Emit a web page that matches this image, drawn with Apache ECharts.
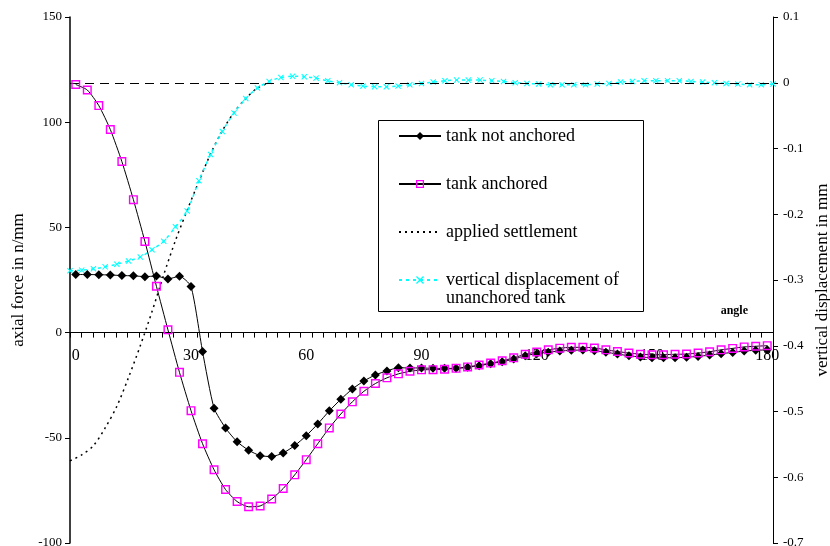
<!DOCTYPE html>
<html>
<head>
<meta charset="utf-8">
<script src="https://cdn.jsdelivr.net/npm/echarts@6/dist/echarts.min.js"></script>
<style>
  html, body { margin: 0; padding: 0; background: #fff; }
  #chart { width: 830px; height: 546px; }
</style>
</head>
<body>
<div id="chart"></div>
<script>
// Angle positions around the tank circumference (degrees)
const angles = [0, 3, 6, 9, 12, 15, 18, 21, 24, 27, 30, 33, 36, 39, 42, 45, 48, 51, 54, 57,
  60, 63, 66, 69, 72, 75, 78, 81, 84, 87, 90, 93, 96, 99, 102, 105, 108, 111, 114, 117,
  120, 123, 126, 129, 132, 135, 138, 141, 144, 147, 150, 153, 156, 159, 162, 165, 168, 171, 174, 177, 180];

// Axial force, tank not anchored (n/mm)
const forceNotAnchored = [27.6, 27.6, 27.5, 27.4, 27.1, 27.0, 26.6, 26.9, 25.5, 26.8,
  21.9, -9.0, -35.9, -45.4, -51.9, -55.9, -58.5, -58.9, -57.2, -53.7,
  -49.0, -43.4, -37.2, -31.7, -26.8, -23.0, -20.1, -18.2, -16.7, -16.8,
  -16.8, -17.0, -17.0, -17.0, -16.5, -15.7, -14.8, -13.8, -12.6, -11.0,
  -10.0, -9.3, -8.8, -8.4, -8.3, -8.6, -9.3, -10.2, -11.0, -11.6,
  -11.9, -12.0, -11.9, -11.7, -11.3, -10.7, -10.0, -9.4, -8.8, -8.4, -8.2];

// Axial force, tank anchored (n/mm)
const forceAnchored = [117.9, 115.3, 107.9, 96.5, 81.3, 63.2, 43.3, 22.0, 1.3, -18.9,
  -37.1, -52.8, -65.2, -74.6, -80.3, -82.8, -82.4, -79.1, -74.1, -67.6,
  -60.4, -52.8, -45.3, -38.7, -32.9, -27.9, -24.2, -21.5, -19.6, -18.4,
  -17.7, -17.6, -17.4, -17.0, -16.3, -15.4, -14.5, -13.4, -12.0, -10.3,
  -9.2, -8.2, -7.4, -7.0, -7.0, -7.3, -8.2, -9.0, -9.7, -10.3,
  -10.5, -10.5, -10.3, -10.2, -9.7, -9.1, -8.2, -7.5, -6.8, -6.5, -6.2];

// Applied settlement (mm), defined up to where it returns to zero
const appliedSettlement = [-0.575, -0.566, -0.552, -0.525, -0.492, -0.448, -0.400, -0.348, -0.292, -0.240,
  -0.194, -0.150, -0.108, -0.073, -0.045, -0.024, -0.008, 0.000];

// Vertical displacement of the unanchored tank (mm)
const displacement = [-0.286, -0.285, -0.283, -0.280, -0.276, -0.271, -0.265, -0.254, -0.241, -0.219,
  -0.195, -0.149, -0.109, -0.074, -0.046, -0.024, -0.008, 0.002, 0.008, 0.010,
  0.009, 0.007, 0.003, 0.000, -0.003, -0.005, -0.006, -0.006, -0.005, -0.003,
  -0.001, 0.001, 0.003, 0.004, 0.004, 0.004, 0.003, 0.002, 0.000, -0.001,
  -0.002, -0.003, -0.003, -0.003, -0.003, -0.002, -0.001, 0.001, 0.002, 0.003,
  0.003, 0.003, 0.003, 0.002, 0.001, 0.000, -0.001, -0.002, -0.003, -0.003, -0.002];

const leftTicks = { min: -100, max: 150, step: 50 };
const rightTicks = { min: -0.7, max: 0.1, step: 0.1 };

const FONT = 'Liberation Serif';
// X-shaped marker and a see-through square outline marker
const crossPath = 'path://M0,1.2L1.2,0L5,3.8L8.8,0L10,1.2L6.2,5L10,8.8L8.8,10L5,6.2L1.2,10L0,8.8L3.8,5Z';
const hollowSquare = 'path://M0,0H10V10H0Z M1.6,1.6V8.4H8.4V1.6Z';
const DISP_NAME = 'vertical displacement of unanchored tank';

const chart = echarts.init(document.getElementById('chart'), null, { renderer: 'canvas' });

chart.setOption({
  animation: false,
  backgroundColor: '#fff',
  textStyle: { fontFamily: FONT, color: '#000' },
  grid: { left: 70, right: 57, top: 17, bottom: 3, outerBoundsMode: 'none' },
  legend: {
    orient: 'vertical',
    left: 393,
    top: 122,
    itemWidth: 42,
    itemHeight: 10,
    itemGap: 30,
    textStyle: { fontFamily: FONT, fontSize: 18, color: '#000' },
    data: [
      'tank not anchored',
      'tank anchored',
      // the settlement line carries no marker, so its key shows only the dotted line
      { name: 'applied settlement', itemStyle: { color: 'rgba(0,0,0,0)', borderWidth: 0, opacity: 0 } },
      DISP_NAME
    ],
    formatter: function (name) {
      return name === DISP_NAME ? 'vertical displacement of' : name;
    }
  },
  graphic: [{
    type: 'rect',
    shape: { x: 378.5, y: 120.5, width: 265, height: 191 },
    style: { fill: 'none', stroke: '#000', lineWidth: 1 },
    z: -1
  }, {
    // continuation line of the last legend entry
    type: 'text',
    x: 446,
    y: 298,
    style: { text: 'unanchored tank', font: '18px "Liberation Serif"', fill: '#000', verticalAlign: 'middle' }
  }],
  xAxis: [{
    type: 'category',
    data: angles,
    boundaryGap: true,
    position: 'bottom',
    offset: 0,
    name: 'angle',
    nameLocation: 'end',
    nameGap: -25,
    nameTextStyle: { fontFamily: FONT, fontSize: 12, fontWeight: 'bold', color: '#000',
      align: 'right', verticalAlign: 'bottom', padding: [0, 0, 16, 0] },
    axisLine: { show: true, onZero: false, lineStyle: { color: '#000', width: 1 } },
    axisTick: { show: true, interval: 0, length: 5, lineStyle: { color: '#000' } },
    axisLabel: { interval: 9, fontFamily: FONT, fontSize: 16, color: '#000', margin: 15 },
    splitLine: { show: false }
  }, {
    type: 'category',
    data: angles,
    boundaryGap: false,
    show: false
  }],
  yAxis: [{
    type: 'value',
    min: leftTicks.min,
    max: leftTicks.max,
    interval: leftTicks.step,
    position: 'left',
    name: 'axial force in n/mm',
    nameLocation: 'middle',
    nameRotate: 90,
    nameGap: 42,
    nameTextStyle: { fontFamily: FONT, fontSize: 17, color: '#000' },
    axisLine: { show: true, onZero: false, lineStyle: { color: '#000', width: 1.5 } },
    axisTick: { show: true, length: 5, lineStyle: { color: '#000' } },
    axisLabel: { fontFamily: FONT, fontSize: 13, color: '#000', margin: 8 },
    splitLine: { show: false }
  }, {
    type: 'value',
    min: rightTicks.min,
    max: rightTicks.max,
    interval: rightTicks.step,
    position: 'right',
    name: 'vertical displacement in mm',
    nameLocation: 'middle',
    nameRotate: 90,
    nameGap: 36,
    nameTextStyle: { fontFamily: FONT, fontSize: 17, color: '#000' },
    axisLine: { show: true, onZero: false, lineStyle: { color: '#000', width: 1 } },
    axisTick: { show: true, length: 5, lineStyle: { color: '#000' } },
    axisLabel: {
      fontFamily: FONT, fontSize: 13, color: '#000', margin: 10,
      formatter: function (v) { return String(Math.round(v * 10) / 10); }
    },
    splitLine: { show: false }
  }],
  series: [{
    name: 'applied settlement',
    type: 'line',
    xAxisIndex: 1,
    yAxisIndex: 1,
    data: appliedSettlement,
    symbol: 'none',
    smooth: 0.3,
    lineStyle: { color: '#000', width: 1.5, type: [2, 4] },
    itemStyle: { color: '#000' },
    markLine: {
      silent: true,
      symbol: 'none',
      label: { show: false },
      lineStyle: { color: '#000', width: 1, type: [9, 6] },
      data: [{ yAxis: 0 }]
    },
    z: 2
  }, {
    name: DISP_NAME,
    type: 'line',
    xAxisIndex: 1,
    yAxisIndex: 1,
    data: displacement,
    symbol: crossPath,
    symbolSize: 6,
    showAllSymbol: true,
    smooth: 0.3,
    lineStyle: { color: '#00FFFF', width: 1.5, type: [3, 4] },
    itemStyle: { color: '#00FFFF' },
    z: 3
  }, {
    name: 'tank not anchored',
    type: 'line',
    xAxisIndex: 0,
    yAxisIndex: 0,
    data: forceNotAnchored,
    symbol: 'diamond',
    symbolSize: 9,
    showAllSymbol: true,
    smooth: 0.2,
    lineStyle: { color: '#000', width: 1 },
    itemStyle: { color: '#000' },
    z: 4
  }, {
    name: 'tank anchored',
    type: 'line',
    xAxisIndex: 0,
    yAxisIndex: 0,
    data: forceAnchored,
    symbol: hollowSquare,
    symbolSize: 9,
    showAllSymbol: true,
    smooth: 0.2,
    lineStyle: { color: '#000', width: 1 },
    itemStyle: { color: '#FF00FF' },
    z: 5
  }]
});

// Lift the category axis (line, ticks and labels) up to the zero of the force scale
const zeroY = chart.convertToPixel({ yAxisIndex: 0 }, 0);
const baseY = chart.convertToPixel({ yAxisIndex: 0 }, leftTicks.min);
chart.setOption({ xAxis: [{ offset: -(baseY - zeroY) }, {}] });
</script>
</body>
</html>
